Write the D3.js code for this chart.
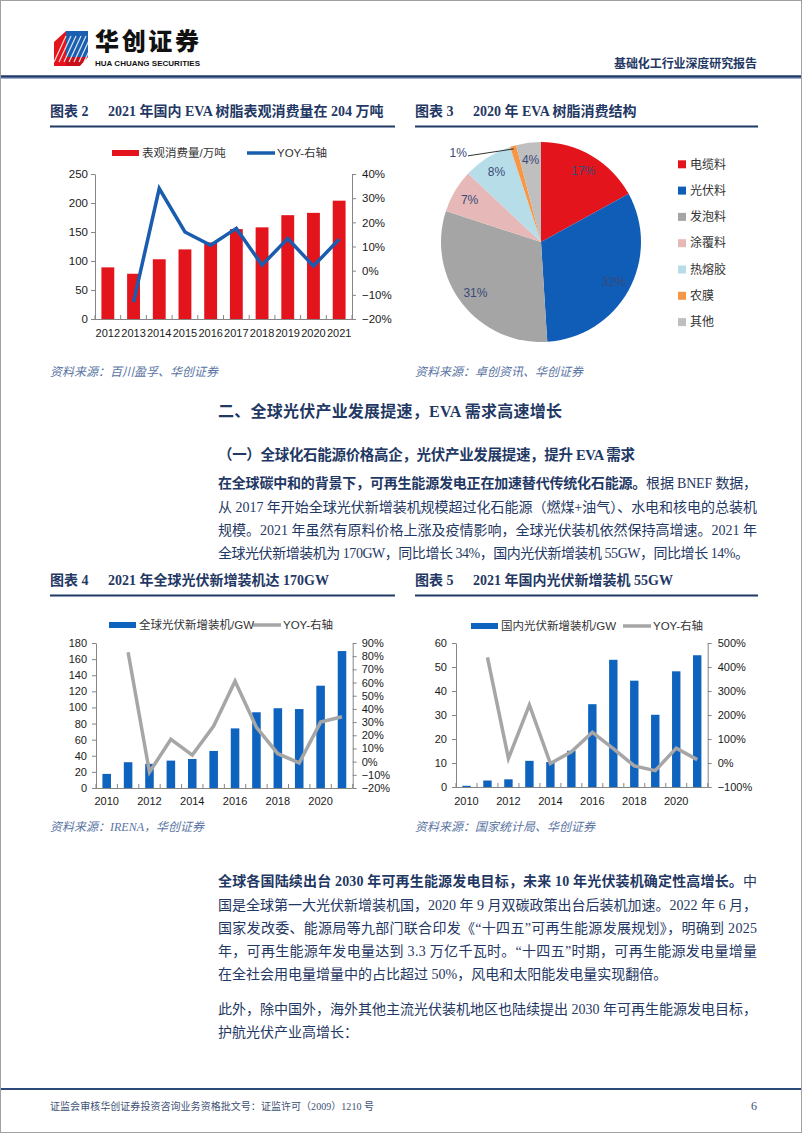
<!DOCTYPE html>
<html><head><meta charset="utf-8">
<script src="https://cdn.jsdelivr.net/npm/d3@7/dist/d3.min.js"></script>
<style>
body{margin:0;background:#fff;}
#page{position:relative;width:802px;height:1133px;overflow:hidden;background:#fff;}
svg{position:absolute;left:0;top:0;}
</style></head>
<body><div id="page"></div>
<script>
// ---------------- DATA ----------------
const years2 = ['2012','2013','2014','2015','2016','2017','2018','2019','2020','2021'];
const evaConsumption = [89,78,103,120,132,155,158,179,183,204];
const evaYoy = [null,-0.13,0.34,0.16,0.105,0.175,0.023,0.133,0.019,0.13];
const evaLeftTicks = [0,50,100,150,200,250];
const evaRightTicks = [-0.2,-0.1,0,0.1,0.2,0.3,0.4];

const pieCats = ['电缆料','光伏料','发泡料','涂覆料','热熔胶','农膜','其他'];
const pieVals = [17,32,31,7,8,1,4];
const pieColors = ['#e3141c','#0f5db6','#a5a5a5','#e6b9b8','#b7dee8','#f79646','#bfbfbf'];

const years4 = ['2010','2011','2012','2013','2014','2015','2016','2017','2018','2019','2020','2021'];
const xLabelYears = ['2010','2012','2014','2016','2018','2020'];
const globalPV = [17.5,32,30,34,36,46,74,94,99,98,127,170];
const globalYoy = [null,0.83,-0.08,0.17,0.05,0.27,0.61,0.26,0.06,-0.01,0.30,0.34];
const globalLeftTicks = [0,20,40,60,80,100,120,140,160,180];
const globalRightTicks = [-0.2,-0.1,0,0.1,0.2,0.3,0.4,0.5,0.6,0.7,0.8,0.9];

const chinaPV = [0.5,2.7,3.2,10.9,10.4,15.1,34.5,53,44.3,30.1,48.2,54.9];
const chinaYoy = [null,4.4,0.19,2.42,-0.02,0.47,1.28,0.6,-0.12,-0.32,0.62,0.14];
const chinaLeftTicks = [0,10,20,30,40,50,60];
const chinaRightTicks = [-1,0,1,2,3,4,5];

// ---------------- SETUP ----------------
const W = 802, H = 1133;
const NAVY = '#1f3864';
const SERIF = '"Liberation Serif","Noto Sans CJK SC",serif';
const SANS = '"Liberation Sans","Noto Sans CJK SC",sans-serif';
const CJK = '"Noto Sans CJK SC",sans-serif';
const svg = d3.select('#page').append('svg').attr('width', W).attr('height', H);

function txt(x, y, parts, o = {}) {
  const t = svg.append('text').attr('x', x).attr('y', y).attr('dy', '0.35em')
    .attr('font-family', o.ff || SERIF).attr('font-size', o.fs || 14)
    .attr('fill', o.fill || NAVY).attr('text-anchor', o.anchor || 'start');
  if (o.italic) t.attr('font-style', 'italic');
  if (o.bold) t.attr('font-weight', 'bold');
  const arr = Array.isArray(parts) ? parts : [[parts, false]];
  arr.forEach(p => { const s = t.append('tspan').text(p[0]); if (p[1]) s.attr('font-weight', 'bold'); });
  if (o.width) {
    const w = t.node().getComputedTextLength();
    const n = Array.from(t.text()).length;
    t.attr('letter-spacing', ((o.width - w) / (n - 1)).toFixed(3));
  }
  return t;
}

// page border
svg.append('rect').attr('x', 0.5).attr('y', 0.5).attr('width', W - 1).attr('height', H - 1)
  .attr('fill', 'none').attr('stroke', '#a0a0a0');

// ---------------- HEADER ----------------
const logo = svg.append('g');
logo.append('polygon').attr('points', '54,42 66,31 66,66 54,66').attr('fill', '#e3141c');
logo.append('polygon').attr('points', '66,31 88,31 88,57 66,57').attr('fill', '#1b5fb0');
logo.append('polygon').attr('points', '66,57 88,57 80,66 66,66').attr('fill', '#c8101a');
for (let i = 0; i < 7; i++) {
  logo.append('line').attr('x1', 54 + i * 5).attr('y1', 62).attr('x2', 66 + i * 5).attr('y2', 36)
    .attr('stroke', '#fff').attr('stroke-width', 1.2).attr('opacity', 0.85);
}
txt(95, 42, '华创证券', { ff: CJK, fs: 24, fill: '#111', width: 104 }).attr('font-weight', 900);
txt(95, 63, 'HUA CHUANG SECURITIES', { ff: SANS, fs: 8, fill: '#111', bold: true, width: 105 });
txt(614, 64, '基础化工行业深度研究报告', { ff: CJK, fs: 12, bold: true, fill: NAVY, width: 143 });
svg.append('line').attr('x1', 1).attr('x2', W - 1).attr('y1', 76.5).attr('y2', 76.5).attr('stroke', '#1f3a6b').attr('stroke-width', 2.5);
svg.append('line').attr('x1', 1).attr('x2', W - 1).attr('y1', 78.5).attr('y2', 78.5).attr('stroke', '#9fb0cf').attr('stroke-width', 1);

// ---------------- TITLES ----------------
function chartTitle(x, y, a, b, x2) {
  txt(x, y, a, { fs: 14, bold: true });
  txt(x + 58, y, b, { fs: 14, bold: true });
  svg.append('line').attr('x1', x).attr('x2', x2).attr('y1', y + 15.5).attr('y2', y + 15.5).attr('stroke', NAVY).attr('stroke-width', 2);
}
chartTitle(50, 111, '图表 2', '2021 年国内 EVA 树脂表观消费量在 204 万吨', 395);
chartTitle(415, 111, '图表 3', '2020 年 EVA 树脂消费结构', 758);
chartTitle(50, 580, '图表 4', '2021 年全球光伏新增装机达 170GW', 395);
chartTitle(415, 580, '图表 5', '2021 年国内光伏新增装机 55GW', 758);

// ---------------- COMBO CHART ----------------
function combo(o) {
  const g = svg.append('g');
  const x = d3.scaleBand().domain(o.cats).range([o.x0, o.x1]).paddingInner(o.pin).paddingOuter(o.pout);
  const y = d3.scaleLinear().domain(o.yDom).range([o.y0, o.y1]);
  const yr = d3.scaleLinear().domain(o.rDom).range([o.y0, o.y1]);
  const AX = '#868686';
  const la = g.append('g').attr('transform', `translate(${o.x0},0)`)
    .call(d3.axisLeft(y).tickValues(o.yTicks).tickSize(4).tickSizeOuter(0).tickPadding(o.lpad));
  const ra = g.append('g').attr('transform', `translate(${o.x1},0)`)
    .call(d3.axisRight(yr).tickValues(o.rTicks).tickSize(4).tickSizeOuter(0).tickPadding(o.rpad).tickFormat(d3.format('.0%')));
  [la, ra].forEach(a => {
    a.selectAll('path,line').attr('stroke', AX);
    a.selectAll('text').attr('font-family', SANS).attr('font-size', o.fs).attr('fill', '#1a1a1a');
  });
  g.append('line').attr('x1', o.x0).attr('x2', o.x1).attr('y1', o.y0 + 0.5).attr('y2', o.y0 + 0.5).attr('stroke', AX);
  const bounds = o.cats.map(c => x(c) + x.bandwidth() / 2 - x.step() / 2).concat([o.x1]);
  g.selectAll('.xt').data(bounds).enter().append('line')
    .attr('x1', d => d).attr('x2', d => d).attr('y1', o.y0).attr('y2', o.y0 - 4).attr('stroke', AX);
  g.selectAll('.xl').data(o.xLabels).enter().append('text')
    .attr('x', d => x(d) + x.bandwidth() / 2).attr('y', o.y0 + o.xlOff).attr('dy', '0.35em')
    .attr('text-anchor', 'middle').attr('font-family', SANS).attr('font-size', o.xfs).attr('fill', '#1a1a1a').text(d => d);
  g.selectAll('.bar').data(o.cats).enter().append('rect')
    .attr('x', d => x(d)).attr('width', x.bandwidth())
    .attr('y', (d, i) => y(o.vals[i])).attr('height', (d, i) => o.y0 - y(o.vals[i]))
    .attr('fill', o.barColor);
  const pts = o.cats.map((c, i) => [x(c) + x.bandwidth() / 2, o.yoy[i]]).filter(p => p[1] !== null);
  g.append('path').datum(pts)
    .attr('d', d3.line().x(d => d[0]).y(d => yr(d[1])))
    .attr('fill', 'none').attr('stroke', o.lineColor).attr('stroke-width', 3.5).attr('stroke-linejoin', 'miter');
  const L = o.legend;
  g.append('rect').attr('x', L.bx).attr('y', L.y - 3).attr('width', 27).attr('height', 6).attr('fill', o.barColor);
  txt(L.bx + 30, L.y, L.barText, { ff: SANS, fs: 11.5, fill: '#333' });
  g.append('line').attr('x1', L.lx).attr('x2', L.lx + 28).attr('y1', L.y).attr('y2', L.y).attr('stroke', o.lineColor).attr('stroke-width', 3.5);
  txt(L.lx + 30, L.y, L.lineText, { ff: SANS, fs: 11.5, fill: '#333' });
}

combo({
  cats: years2, vals: evaConsumption, yoy: evaYoy, x0: 95, x1: 352, pin: 0.5, pout: 0.25,
  y0: 319, y1: 174, yDom: [0, 250], rDom: [-0.2, 0.4], yTicks: evaLeftTicks, rTicks: evaRightTicks,
  lpad: 3, rpad: 6, fs: 11.5, xfs: 11, xlOff: 14, xLabels: years2,
  barColor: '#e3141c', lineColor: '#1a5cad',
  legend: { y: 153, bx: 112, lx: 247, barText: '表观消费量/万吨', lineText: 'YOY-右轴' }
});
combo({
  cats: years4, vals: globalPV, yoy: globalYoy, x0: 96, x1: 352.7, pin: 0.6, pout: 0.3,
  y0: 788, y1: 643, yDom: [0, 180], rDom: [-0.2, 0.9], yTicks: globalLeftTicks, rTicks: globalRightTicks,
  lpad: 5, rpad: 5, fs: 11, xfs: 11, xlOff: 13, xLabels: xLabelYears,
  barColor: '#0e63be', lineColor: '#a6a6a6',
  legend: { y: 625, bx: 109, lx: 253, barText: '全球光伏新增装机/GW', lineText: 'YOY-右轴' }
});
combo({
  cats: years4, vals: chinaPV, yoy: chinaYoy, x0: 456, x1: 707.7, pin: 0.6, pout: 0.3,
  y0: 787, y1: 643, yDom: [0, 60], rDom: [-1, 5], yTicks: chinaLeftTicks, rTicks: chinaRightTicks,
  lpad: 5, rpad: 6, fs: 11, xfs: 11, xlOff: 14, xLabels: xLabelYears,
  barColor: '#0e63be', lineColor: '#a6a6a6',
  legend: { y: 626, bx: 471, lx: 623, barText: '国内光伏新增装机/GW', lineText: 'YOY-右轴' }
});

// ---------------- PIE ----------------
(function () {
  const cx = 541, cy = 242, R = 100;
  const g = svg.append('g').attr('transform', `translate(${cx},${cy})`);
  const pie = d3.pie().sort(null).value(d => d)(pieVals);
  const arc = d3.arc().innerRadius(0).outerRadius(R);
  g.selectAll('path').data(pie).enter().append('path').attr('d', arc).attr('fill', (d, i) => pieColors[i]);
  const lab = d3.arc().innerRadius(83).outerRadius(83);
  const edge = d3.arc().innerRadius(97).outerRadius(97);
  pie.forEach((d, i) => {
    const lbl = d3.format('.0f')(pieVals[i]) + '%';
    if (pieVals[i] >= 3) {
      const c = lab.centroid(d);
      g.append('text').attr('x', c[0]).attr('y', c[1]).attr('dy', '0.35em').attr('text-anchor', 'middle')
        .attr('font-family', SANS).attr('font-size', 12).attr('fill', '#3a4a78').text(lbl);
    } else {
      const e = edge.centroid(d);
      const s = [e[0] - 46, e[1] + 7];
      g.append('line').attr('x1', s[0]).attr('y1', s[1]).attr('x2', e[0]).attr('y2', e[1]).attr('stroke', '#333').attr('stroke-width', 1);
      g.append('text').attr('x', s[0] - 1).attr('y', s[1] - 3).attr('dy', '0.35em').attr('text-anchor', 'end')
        .attr('font-family', SANS).attr('font-size', 12).attr('fill', '#3a4a78').text(lbl);
    }
  });
  const lg = svg.append('g');
  pieCats.forEach((c, i) => {
    const yy = 164.3 + i * 26.3;
    lg.append('rect').attr('x', 678).attr('y', yy - 4).attr('width', 8).attr('height', 8).attr('fill', pieColors[i]);
    txt(690, yy, c, { ff: CJK, fs: 12, fill: '#333' });
  });
})();

// ---------------- SOURCES ----------------
const SRC = '#5a74a3';
txt(50, 372, '资料来源：百川盈孚、华创证券', { ff: CJK, fs: 12, italic: true, fill: SRC });
txt(415, 372, '资料来源：卓创资讯、华创证券', { ff: CJK, fs: 12, italic: true, fill: SRC });
txt(50, 827, '资料来源：IRENA，华创证券', { ff: SERIF, fs: 12, italic: true, fill: SRC });
txt(415, 827, '资料来源：国家统计局、华创证券', { ff: CJK, fs: 12, italic: true, fill: SRC });

// ---------------- BODY TEXT ----------------
txt(218, 411, '二、全球光伏产业发展提速，EVA 需求高速增长', { fs: 16, bold: true, width: 344 });
txt(218, 455, '（一）全球化石能源价格高企，光伏产业发展提速，提升 EVA 需求', { fs: 14.5, bold: true, width: 417 });

const FULL = 539;
const bodyLines = [
  [[['在全球碳中和的背景下，可再生能源发电正在加速替代传统化石能源。', true], ['根据 BNEF 数据，', false]], 483, FULL],
  [[['从 2017 年开始全球光伏新增装机规模超过化石能源（燃煤+油气）、水电和核电的总装机', false]], 507, FULL],
  [[['规模。2021 年虽然有原料价格上涨及疫情影响，全球光伏装机依然保持高增速。2021 年', false]], 530, FULL],
  [[['全球光伏新增装机为 170GW，同比增长 34%，国内光伏新增装机 55GW，同比增长 14%。', false]], 553, 531],
  [[['全球各国陆续出台 2030 年可再生能源发电目标，未来 10 年光伏装机确定性高增长。', true], ['中', false]], 881, FULL],
  [[['国是全球第一大光伏新增装机国，2020 年 9 月双碳政策出台后装机加速。2022 年 6 月，', false]], 905, FULL],
  [[['国家发改委、能源局等九部门联合印发《“十四五”可再生能源发展规划》，明确到 2025', false]], 928, FULL],
  [[['年，可再生能源年发电量达到 3.3 万亿千瓦时。“十四五”时期，可再生能源发电量增量', false]], 951, FULL],
  [[['在全社会用电量增量中的占比超过 50%，风电和太阳能发电量实现翻倍。', false]], 974, null],
  [[['此外，除中国外，海外其他主流光伏装机地区也陆续提出 2030 年可再生能源发电目标，', false]], 1009, FULL],
  [[['护航光伏产业高增长：', false]], 1032, null]
];
bodyLines.forEach(l => txt(218, l[1], l[0], { fs: 14, width: l[2] || undefined }));

// ---------------- FOOTER ----------------
svg.append('line').attr('x1', 1).attr('x2', W - 1).attr('y1', 1089).attr('y2', 1089).attr('stroke', '#2d4a7a').attr('stroke-width', 2);
txt(50, 1106, '证监会审核华创证券投资咨询业务资格批文号：证监许可（2009）1210 号', { fs: 10, fill: '#3d5075', width: 324 });
txt(757, 1106, '6', { fs: 12, fill: '#3d5075', anchor: 'end' });
</script>
</body></html>
